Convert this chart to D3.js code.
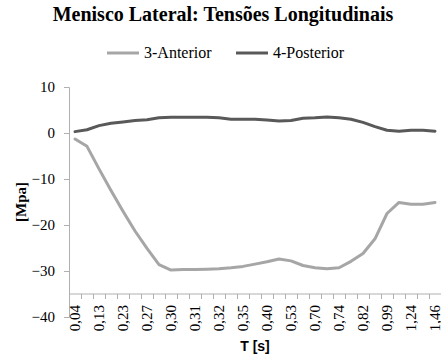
<!DOCTYPE html>
<html>
<head>
<meta charset="utf-8">
<script src="https://cdn.jsdelivr.net/npm/d3@7"></script>
<style>
  html, body { margin: 0; padding: 0; background: #fff; }
  svg { display: block; }
</style>
</head>
<body>
<svg id="chart" width="441" height="358"></svg>
<script>
// Time instants (s) of each sample; every other one is labelled on the axis
const times = [0.04, 0.08, 0.13, 0.18, 0.23, 0.25, 0.27, 0.29, 0.30, 0.305, 0.31,
               0.315, 0.32, 0.33, 0.35, 0.37, 0.40, 0.46, 0.53, 0.62, 0.70, 0.72,
               0.74, 0.78, 0.82, 0.90, 0.99, 1.12, 1.24, 1.35, 1.46];

// Longitudinal stress (MPa)
const anterior = [-1.3, -2.9, -7.8, -12.5, -17.0, -21.3, -25.1, -28.6, -29.8, -29.7,
                  -29.7, -29.6, -29.5, -29.3, -29.0, -28.5, -28.0, -27.4, -27.8, -28.8,
                  -29.3, -29.5, -29.3, -27.9, -26.2, -23.0, -17.5, -15.1, -15.5, -15.5, -15.1];
const posterior = [0.3, 0.7, 1.6, 2.1, 2.4, 2.7, 2.9, 3.3, 3.4, 3.4,
                   3.4, 3.4, 3.3, 3.0, 3.0, 3.0, 2.8, 2.6, 2.7, 3.2,
                   3.3, 3.5, 3.3, 3.0, 2.3, 1.4, 0.6, 0.4, 0.6, 0.6, 0.4];

const seriesNames = ["3-Anterior", "4-Posterior"];
const seriesColors = ["#a6a6a6", "#595959"];
const yTicks = [10, 0, -10, -20, -30, -40];

const title = "Menisco Lateral: Tensões Longitudinais";
const xTitle = "T [s]";
const yTitle = "[Mpa]";

const svg = d3.select("#chart");
const serif = "'Liberation Serif', 'Times New Roman', serif";
const sans = "'Liberation Sans', Arial, sans-serif";
const axisColor = "#b0b0b0";

const plot = { left: 69, right: 441, top: 87, bottom: 317 };
const xCross = -35; // value where the category axis crosses the value axis

const idx = d3.range(times.length);
const x = d3.scaleBand().domain(idx).range([plot.left, plot.right]).padding(0);
const y = d3.scaleLinear().domain([-40, 10]).range([plot.bottom, plot.top]);
const cx = i => x(i) + x.bandwidth() / 2;
const fmt = v => v.toFixed(2).replace(".", ",");

// Title
svg.append("text")
  .attr("x", 223).attr("y", 21)
  .attr("text-anchor", "middle")
  .attr("font-family", serif).attr("font-weight", "bold").attr("font-size", 20)
  .attr("fill", "#000")
  .text(title);

// Legend
const legend = svg.append("g").attr("font-family", serif).attr("font-size", 16);
const legendX = [107, 236];
seriesNames.forEach((name, k) => {
  legend.append("line")
    .attr("x1", legendX[k]).attr("x2", legendX[k] + 32)
    .attr("y1", 53).attr("y2", 53)
    .attr("stroke", seriesColors[k]).attr("stroke-width", 3);
  legend.append("text")
    .attr("x", legendX[k] + 37).attr("y", 58)
    .attr("fill", "#000")
    .text(name);
});

// Value axis
const yAxis = svg.append("g")
  .attr("transform", `translate(${plot.left},0)`)
  .call(d3.axisLeft(y).tickValues(yTicks).tickSize(5).tickPadding(9).tickFormat(d3.format("d")));
yAxis.select(".domain").attr("stroke", axisColor).attr("stroke-width", 1);
yAxis.selectAll(".tick line").attr("stroke", axisColor);
yAxis.selectAll(".tick text")
  .attr("font-family", serif).attr("font-size", 15).attr("fill", "#000");

// Category axis: tick marks on category boundaries, labels on every other category
const yCross = y(xCross);
const xAxis = svg.append("g")
  .attr("transform", `translate(0,${yCross})`)
  .call(d3.axisBottom(x)
    .tickValues(idx.filter(i => i % 2 === 0))
    .tickFormat(i => fmt(times[i]))
    .tickSize(0));
xAxis.select(".domain").attr("stroke", axisColor).attr("stroke-width", 1)
  .attr("d", `M${plot.left},0H${plot.right}`);
xAxis.selectAll(".tick text")
  .attr("font-family", serif).attr("font-size", 15).attr("fill", "#000")
  .attr("transform", "rotate(-90)")
  .attr("text-anchor", "end")
  .attr("x", -11).attr("y", 0).attr("dy", "0.32em");
xAxis.selectAll(".boundary")
  .data(d3.range(times.length + 1))
  .join("line")
  .attr("class", "boundary")
  .attr("x1", i => (i < times.length ? x(i) : plot.right) + 0.5)
  .attr("x2", i => (i < times.length ? x(i) : plot.right) + 0.5)
  .attr("y1", 0).attr("y2", 5)
  .attr("stroke", axisColor);

// Axis titles
svg.append("text")
  .attr("x", (plot.left + plot.right) / 2).attr("y", 351)
  .attr("text-anchor", "middle")
  .attr("font-family", sans).attr("font-weight", "bold").attr("font-size", 14)
  .attr("fill", "#000")
  .text(xTitle);
svg.append("text")
  .attr("transform", `translate(26,${(plot.top + plot.bottom) / 2}) rotate(-90)`)
  .attr("text-anchor", "middle")
  .attr("font-family", serif).attr("font-weight", "bold").attr("font-size", 15)
  .attr("fill", "#000")
  .text(yTitle);

// Series lines
const line = d3.line().x((d, i) => cx(i)).y(d => y(d));
[anterior, posterior].forEach((values, k) => {
  svg.append("path")
    .datum(values)
    .attr("fill", "none")
    .attr("stroke", seriesColors[k])
    .attr("stroke-width", 3)
    .attr("stroke-linejoin", "round")
    .attr("stroke-linecap", "round")
    .attr("d", line);
});
</script>
</body>
</html>
